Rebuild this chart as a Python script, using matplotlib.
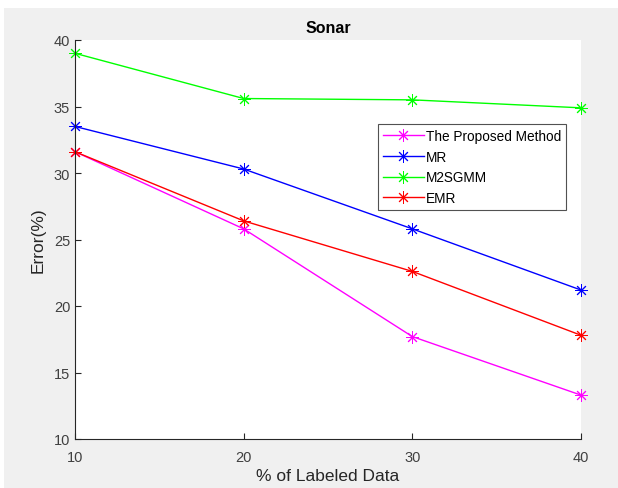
import numpy as np
import matplotlib
matplotlib.use('Agg')
import matplotlib.pyplot as plt
from matplotlib.patches import Rectangle

plt.rcParams['font.family'] = ['Liberation Sans', 'DejaVu Sans']

# data
labeled_pct = [10, 20, 30, 40]
proposed = [31.6, 25.8, 17.7, 13.3]
mr = [33.5, 30.3, 25.8, 21.2]
m2sgmm = [39.0, 35.6, 35.5, 34.9]
emr = [31.6, 26.4, 22.6, 17.8]

series = [
    ('The Proposed Method', proposed, '#ff00ff'),
    ('MR', mr, '#0000ff'),
    ('M2SGMM', m2sgmm, '#00ff00'),
    ('EMR', emr, '#ff0000'),
]

W, H = 618, 489
fig = plt.figure(figsize=(W / 100, H / 100), dpi=100, facecolor='white')
# MATLAB style grey figure area
fig.patches.append(Rectangle((4 / W, 0), 1 - 4 / W, 1 - 9 / H, transform=fig.transFigure,
                             facecolor='#f0f0f0', edgecolor='none', zorder=-10))

ax = fig.add_axes([75 / W, 1 - 440 / H, (581 - 75) / W, (440 - 41) / H])
ax.set_facecolor('white')

asterisk = (8, 2, 0)  # MATLAB style '*' marker
for name, vals, col in series:
    ax.plot(labeled_pct, vals, color=col, marker=asterisk, markersize=9,
            markeredgewidth=0.7, linewidth=1, label=name, clip_on=False)

ax.set_xlim(10, 40)
ax.set_ylim(10, 40)
ax.set_xticks([10, 20, 30, 40])
ax.set_yticks([10, 15, 20, 25, 30, 35, 40])

for s in ['top', 'right']:
    ax.spines[s].set_visible(False)
for s in ['left', 'bottom']:
    ax.spines[s].set_color('#262626')
    ax.spines[s].set_linewidth(0.8)
ax.tick_params(direction='in', length=4, width=0.8, colors='#262626',
               labelsize=10.5, labelcolor='#404040')
ax.tick_params(axis='x', pad=8)

ax.set_xlabel('% of Labeled Data', fontsize=12.5, color='#262626', labelpad=3)
ax.set_ylabel('Error(%)', fontsize=12.5, color='#262626', labelpad=6)
ax.set_title('Sonar', fontsize=11.5, fontweight='bold', color='black', pad=6)

leg = ax.legend(loc='upper left', bbox_to_anchor=((378 - 75) / (581 - 75), 1 - (125 - 41) / (440 - 41)),
                fontsize=9.8, frameon=True, fancybox=False, borderpad=0.35,
                labelspacing=0.5, handlelength=3.0, handletextpad=0.2, borderaxespad=0)
leg.get_frame().set_edgecolor('#262626')
leg.get_frame().set_linewidth(0.8)

fig.savefig('out.png', dpi=100, facecolor='white')
